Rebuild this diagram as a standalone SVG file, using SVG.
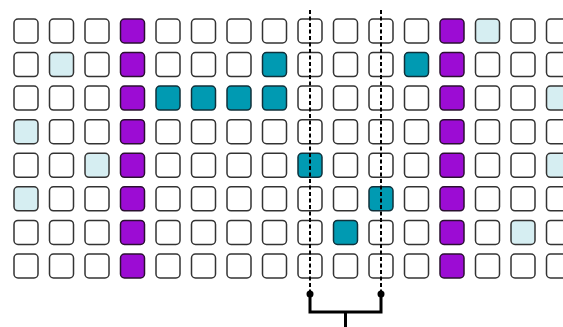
<svg xmlns="http://www.w3.org/2000/svg" width="563" height="327" viewBox="0 0 563 327">
<style>
.c{fill:#ffffff;stroke:#333333;stroke-width:1.5}
.p{fill:#9c0cd4;stroke:#2a1030;stroke-width:1.5}
.t{fill:#009ab2;stroke:#10303a;stroke-width:1.5}
.l{fill:#d6eef2;stroke:#333333;stroke-width:1.5}
.d{stroke:#000;stroke-width:2;stroke-dasharray:4 2.5;fill:none}
.b{stroke:#000;stroke-width:3;fill:none}
</style>
<defs>
<rect id="sq" width="24" height="24" rx="4" ry="4"/>
</defs>
<rect width="563" height="327" fill="#ffffff"/>
<g id="grid">
<g id="r0" transform="translate(0,19)">
<use href="#sq" x="14" class="c"/><use href="#sq" x="49.5" class="c"/><use href="#sq" x="85" class="c"/><use href="#sq" x="120.5" class="p"/><use href="#sq" x="156" class="c"/><use href="#sq" x="191.5" class="c"/><use href="#sq" x="227" class="c"/><use href="#sq" x="262.5" class="c"/><use href="#sq" x="298" class="c"/><use href="#sq" x="333.5" class="c"/><use href="#sq" x="369" class="c"/><use href="#sq" x="404.5" class="c"/><use href="#sq" x="440" class="p"/><use href="#sq" x="475.5" class="l"/><use href="#sq" x="511" class="c"/><use href="#sq" x="546.5" class="c"/>
</g>
<g id="r1" transform="translate(0,52.6)">
<use href="#sq" x="14" class="c"/><use href="#sq" x="49.5" class="l"/><use href="#sq" x="85" class="c"/><use href="#sq" x="120.5" class="p"/><use href="#sq" x="156" class="c"/><use href="#sq" x="191.5" class="c"/><use href="#sq" x="227" class="c"/><use href="#sq" x="262.5" class="t"/><use href="#sq" x="298" class="c"/><use href="#sq" x="333.5" class="c"/><use href="#sq" x="369" class="c"/><use href="#sq" x="404.5" class="t"/><use href="#sq" x="440" class="p"/><use href="#sq" x="475.5" class="c"/><use href="#sq" x="511" class="c"/><use href="#sq" x="546.5" class="c"/>
</g>
<g id="r2" transform="translate(0,86.1)">
<use href="#sq" x="14" class="c"/><use href="#sq" x="49.5" class="c"/><use href="#sq" x="85" class="c"/><use href="#sq" x="120.5" class="p"/><use href="#sq" x="156" class="t"/><use href="#sq" x="191.5" class="t"/><use href="#sq" x="227" class="t"/><use href="#sq" x="262.5" class="t"/><use href="#sq" x="298" class="c"/><use href="#sq" x="333.5" class="c"/><use href="#sq" x="369" class="c"/><use href="#sq" x="404.5" class="c"/><use href="#sq" x="440" class="p"/><use href="#sq" x="475.5" class="c"/><use href="#sq" x="511" class="c"/><use href="#sq" x="546.5" class="l"/>
</g>
<g id="r3" transform="translate(0,119.7)">
<use href="#sq" x="14" class="l"/><use href="#sq" x="49.5" class="c"/><use href="#sq" x="85" class="c"/><use href="#sq" x="120.5" class="p"/><use href="#sq" x="156" class="c"/><use href="#sq" x="191.5" class="c"/><use href="#sq" x="227" class="c"/><use href="#sq" x="262.5" class="c"/><use href="#sq" x="298" class="c"/><use href="#sq" x="333.5" class="c"/><use href="#sq" x="369" class="c"/><use href="#sq" x="404.5" class="c"/><use href="#sq" x="440" class="p"/><use href="#sq" x="475.5" class="c"/><use href="#sq" x="511" class="c"/><use href="#sq" x="546.5" class="c"/>
</g>
<g id="r4" transform="translate(0,153.3)">
<use href="#sq" x="14" class="c"/><use href="#sq" x="49.5" class="c"/><use href="#sq" x="85" class="l"/><use href="#sq" x="120.5" class="p"/><use href="#sq" x="156" class="c"/><use href="#sq" x="191.5" class="c"/><use href="#sq" x="227" class="c"/><use href="#sq" x="262.5" class="c"/><use href="#sq" x="298" class="t"/><use href="#sq" x="333.5" class="c"/><use href="#sq" x="369" class="c"/><use href="#sq" x="404.5" class="c"/><use href="#sq" x="440" class="p"/><use href="#sq" x="475.5" class="c"/><use href="#sq" x="511" class="c"/><use href="#sq" x="546.5" class="l"/>
</g>
<g id="r5" transform="translate(0,186.8)">
<use href="#sq" x="14" class="l"/><use href="#sq" x="49.5" class="c"/><use href="#sq" x="85" class="c"/><use href="#sq" x="120.5" class="p"/><use href="#sq" x="156" class="c"/><use href="#sq" x="191.5" class="c"/><use href="#sq" x="227" class="c"/><use href="#sq" x="262.5" class="c"/><use href="#sq" x="298" class="c"/><use href="#sq" x="333.5" class="c"/><use href="#sq" x="369" class="t"/><use href="#sq" x="404.5" class="c"/><use href="#sq" x="440" class="p"/><use href="#sq" x="475.5" class="c"/><use href="#sq" x="511" class="c"/><use href="#sq" x="546.5" class="c"/>
</g>
<g id="r6" transform="translate(0,220.4)">
<use href="#sq" x="14" class="c"/><use href="#sq" x="49.5" class="c"/><use href="#sq" x="85" class="c"/><use href="#sq" x="120.5" class="p"/><use href="#sq" x="156" class="c"/><use href="#sq" x="191.5" class="c"/><use href="#sq" x="227" class="c"/><use href="#sq" x="262.5" class="c"/><use href="#sq" x="298" class="c"/><use href="#sq" x="333.5" class="t"/><use href="#sq" x="369" class="c"/><use href="#sq" x="404.5" class="c"/><use href="#sq" x="440" class="p"/><use href="#sq" x="475.5" class="c"/><use href="#sq" x="511" class="l"/><use href="#sq" x="546.5" class="c"/>
</g>
<g id="r7" transform="translate(0,254)">
<use href="#sq" x="14" class="c"/><use href="#sq" x="49.5" class="c"/><use href="#sq" x="85" class="c"/><use href="#sq" x="120.5" class="p"/><use href="#sq" x="156" class="c"/><use href="#sq" x="191.5" class="c"/><use href="#sq" x="227" class="c"/><use href="#sq" x="262.5" class="c"/><use href="#sq" x="298" class="c"/><use href="#sq" x="333.5" class="c"/><use href="#sq" x="369" class="c"/><use href="#sq" x="404.5" class="c"/><use href="#sq" x="440" class="p"/><use href="#sq" x="475.5" class="c"/><use href="#sq" x="511" class="c"/><use href="#sq" x="546.5" class="c"/>
</g>
</g>
<g id="connectors">
<line class="d" x1="310" y1="10" x2="310" y2="294"/>
<line class="d" x1="381" y1="10" x2="381" y2="294"/>
<circle cx="310" cy="294" r="3.5" fill="#000"/>
<circle cx="381" cy="294" r="3.5" fill="#000"/>
<polyline class="b" points="310,294 310,312 381,312 381,294"/>
<line class="b" x1="345.5" y1="312" x2="345.5" y2="327"/>
</g>
</svg>
